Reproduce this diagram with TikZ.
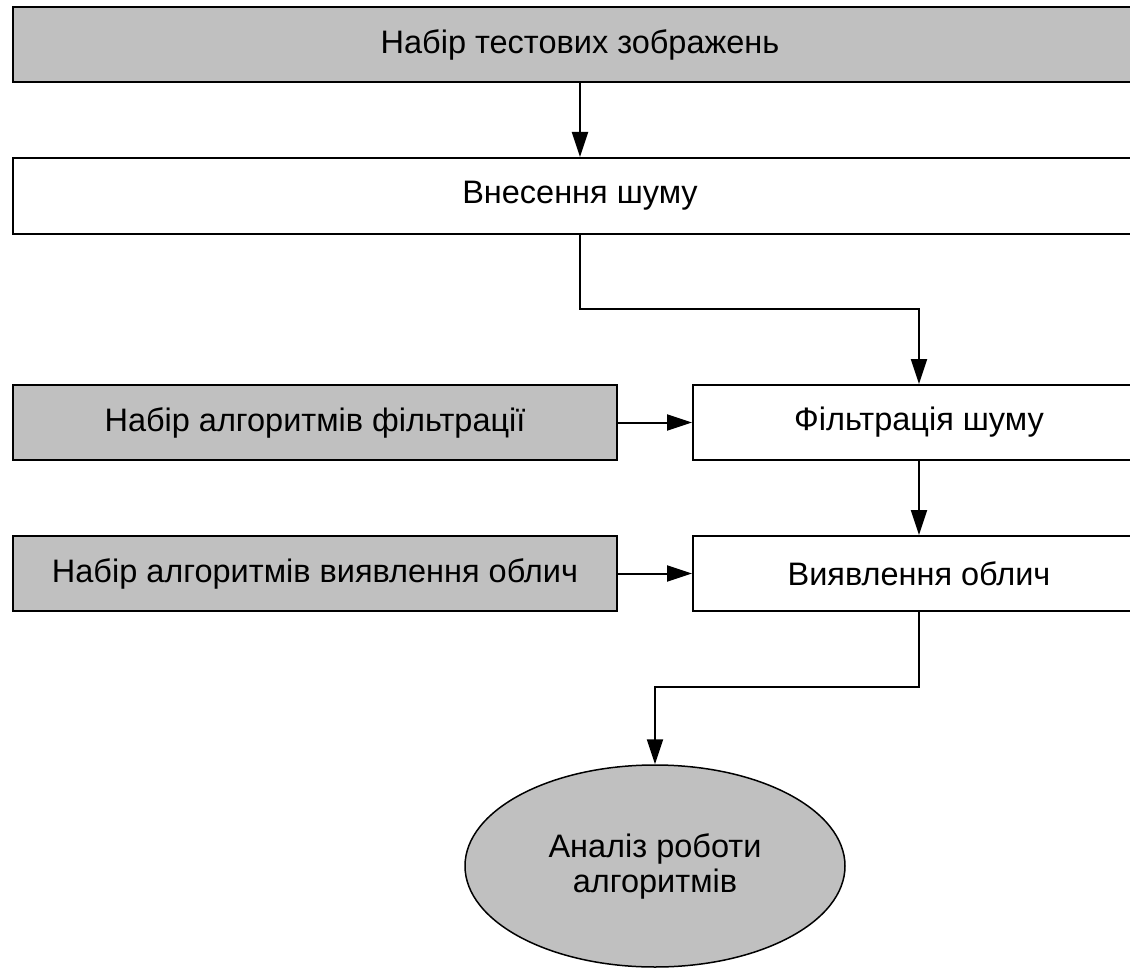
\documentclass[tikz,border=0pt]{standalone}
\usepackage{fontspec}
\setmainfont{Liberation Sans}
\usetikzlibrary{arrows.meta,shapes.geometric}
\begin{document}
\begin{tikzpicture}[x=1pt,y=-1pt,
  box/.style={draw=black,line width=2pt,rectangle,inner sep=0pt,minimum height=75pt,
    font=\fontsize{32.5}{36}\selectfont},
  graybox/.style={box,fill={rgb,255:red,192;green,192;blue,192}},
  whitebox/.style={box,fill=white},
  oval/.style={draw=black,line width=1.5pt,ellipse,inner sep=0pt,minimum width=380pt,minimum height=202pt,
    fill={rgb,255:red,192;green,192;blue,192},align=center,font=\fontsize{32.5}{35}\selectfont},
  arr/.style={draw=black,line width=2pt,-{Triangle[length=25pt,width=16pt]}}]
\useasboundingbox (0,0) rectangle (1130,968);
\clip (0,0) rectangle (1130,968);
\fill[white] (0,0) rectangle (1130,968);
\node[graybox,minimum width=1134pt] (b1) at (580,44.5) {Набір тестових зображень};
\node[whitebox,minimum width=1134pt,minimum height=76pt] (b2) at (580,196) {Внесення шуму};
\node[graybox,minimum width=604pt] (b3) at (315,422.5) {Набір алгоритмів фільтрації};
\node[whitebox,minimum width=452pt] (b4) at (919,422.5) {Фільтрація шуму};
\node[graybox,minimum width=604pt] (b5) at (315,573.5) {Набір алгоритмів виявлення облич};
\node[whitebox,minimum width=452pt] (b6) at (919,573.5) {Виявлення облич};
\node[oval] (el) at (655,866) {Аналіз роботи\\алгоритмів};
\coordinate (k1) at (750,309);
\coordinate (k2) at (750,687);
\draw[arr] (b1.south) -- (b2.north);
\draw[arr] (b2.south) |- (k1) -| (b4.north);
\draw[arr] (b3.east) -- (b4.west);
\draw[arr] (b4.south) -- (b6.north);
\draw[arr] (b5.east) -- (b6.west);
\draw[arr] (b6.south) |- (k2) -| (el.north);
\end{tikzpicture}
\end{document}
